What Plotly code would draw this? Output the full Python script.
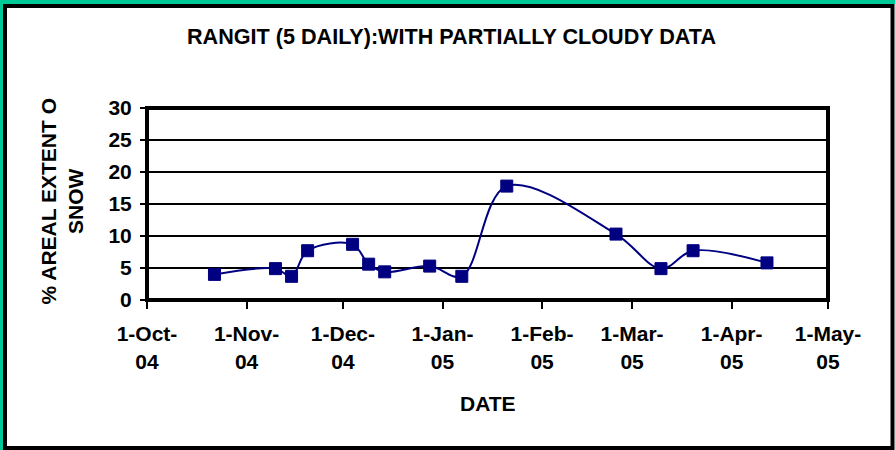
import plotly.graph_objects as go

# ---- data ----
dates = ["2004-10-22", "2004-11-10", "2004-11-15", "2004-11-20", "2004-12-04",
         "2004-12-09", "2004-12-14", "2004-12-28", "2005-01-07", "2005-01-21",
         "2005-02-24", "2005-03-10", "2005-03-20", "2005-04-12"]
snow_pct = [4.0, 4.9, 3.7, 7.7, 8.7, 5.6, 4.4, 5.3, 3.7, 17.8, 10.3, 4.9, 7.7, 5.8]

tick_dates = ["2004-10-01", "2004-11-01", "2004-12-01", "2005-01-01",
              "2005-02-01", "2005-03-01", "2005-04-01", "2005-05-01"]
tick_labels = ["1-Oct-<br>04", "1-Nov-<br>04", "1-Dec-<br>04", "1-Jan-<br>05",
               "1-Feb-<br>05", "1-Mar-<br>05", "1-Apr-<br>05", "1-May-<br>05"]

title_text = "RANGIT (5 DAILY):WITH PARTIALLY CLOUDY DATA"
ytitle_text = "% AREAL EXTENT O<br>SNOW"
xtitle_text = "DATE"

# ---- layout geometry (pixels) ----
W, H = 895, 450
L, R, T, B = 147, 828, 108, 300
FONT = "Liberation Sans, Arial, sans-serif"
FS = 21


def px_x(p):
    return (p - L) / (R - L)


def px_y(p):
    return (B - p) / (B - T)


fig = go.Figure()
fig.add_trace(go.Scatter(
    x=dates, y=snow_pct, mode="lines+markers",
    line=dict(color="#000080", width=2, shape="spline", smoothing=1.0),
    marker=dict(symbol="square", size=12, color="#000080",
                line=dict(color="#000080", width=1)),
    showlegend=False,
))

shapes = [
    # green outer strips
    dict(type="rect", xref="paper", yref="paper", layer="below",
         x0=px_x(0), x1=px_x(3), y0=px_y(0), y1=px_y(H),
         fillcolor="#00C896", line=dict(width=0)),
    dict(type="rect", xref="paper", yref="paper", layer="below",
         x0=px_x(0), x1=px_x(W), y0=px_y(0), y1=px_y(4),
         fillcolor="#00C896", line=dict(width=0)),
    # black outer frame
    dict(type="rect", xref="paper", yref="paper",
         x0=px_x(5), x1=px_x(892.5), y0=px_y(6), y1=px_y(448),
         line=dict(color="black", width=4)),
    # plot area frame
    dict(type="rect", xref="paper", yref="paper",
         x0=0, x1=1, y0=0, y1=1, line=dict(color="black", width=4)),
]

annotations = [
    dict(text=ytitle_text, xref="paper", yref="paper",
         x=px_x(61.5), y=px_y(201), xanchor="center", yanchor="middle",
         textangle=-90, showarrow=False, align="center",
         font=dict(family=FONT, size=FS, color="black", weight="bold")),
    dict(text=xtitle_text, xref="paper", yref="paper",
         x=px_x(487.5), y=px_y(403), xanchor="center", yanchor="middle",
         showarrow=False,
         font=dict(family=FONT, size=FS, color="black", weight="bold")),
]

fig.update_layout(
    width=W, height=H,
    margin=dict(l=L, r=W - R, t=T, b=H - B, pad=0),
    paper_bgcolor="white", plot_bgcolor="white",
    title=dict(text=title_text, xref="container", yref="container",
               x=451.5 / W, y=1 - 36 / H, xanchor="center", yanchor="middle",
               font=dict(family=FONT, size=21.6, color="black", weight="bold")),
    shapes=shapes, annotations=annotations,
    xaxis=dict(type="date", range=["2004-10-01", "2005-05-01"],
               tickmode="array", tickvals=tick_dates, ticktext=tick_labels,
               showgrid=False, zeroline=False, showline=False,
               ticks="outside", ticklen=8, tickwidth=2, tickcolor="black",
               ticklabelstandoff=7,
               tickfont=dict(family=FONT, size=FS, color="black", weight="bold")),
    yaxis=dict(range=[0, 30], tickmode="linear", tick0=0, dtick=5,
               showgrid=True, gridcolor="black", gridwidth=1.5,
               zeroline=False, showline=False,
               ticks="outside", ticklen=6, tickwidth=2, tickcolor="black",
               ticklabelstandoff=4,
               tickfont=dict(family=FONT, size=FS, color="black", weight="bold")),
)

fig.write_html("out.html",
               config={"displayModeBar": False},
               post_script="document.body.style.margin='0';"
                           "document.body.style.overflow='hidden';")
